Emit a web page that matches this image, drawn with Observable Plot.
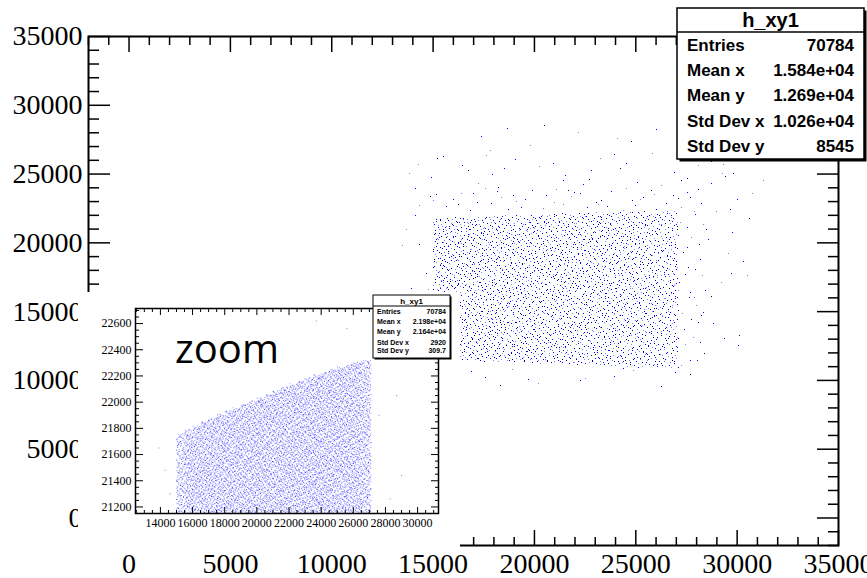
<!DOCTYPE html>
<html>
<head>
<meta charset="utf-8">
<script src="https://cdn.jsdelivr.net/npm/d3@7"></script>
<script src="https://cdn.jsdelivr.net/npm/@observablehq/plot@0.6"></script>
<style>
  body { margin: 0; background: #fff; }
  #chart { position: relative; width: 867px; height: 578px; overflow: hidden; background: #fff; }
  #chart > svg, #pad > svg { position: absolute; left: 0; top: 0; }
  #pad { position: absolute; left: 78px; top: 292px; width: 382px; height: 256px; background: #fff; }
  #overlay { position: absolute; left: 0; top: 0; pointer-events: none; }
  .rootaxes text { font-family: "Liberation Serif", "Times New Roman", serif !important; }
</style>
</head>
<body>
<div id="chart"><div id="pad"></div></div>
<script>
// ---- h_xy1, full range view ----
const xDomain = [-2000, 35000];
const yDomain = [-2000, 35000];
const mainMajorTicks = [0, 5000, 10000, 15000, 20000, 25000, 30000, 35000];
const mainMinorTicks = d3.range(-2000, 35001, 1000).filter(v => v % 5000 !== 0);

// filled band of the 2D histogram, one column per 1000-wide x bin
const bandX0     = [15000, 16000, 17000, 18000, 19000, 20000, 21000, 22000, 23000, 24000, 25000, 26000];
const bandX1     = [16000, 17000, 18000, 19000, 20000, 21000, 22000, 23000, 24000, 25000, 26000, 27100];
const bandTop    = [21790, 21850, 21910, 21960, 22010, 22060, 22115, 22160, 22210, 22250, 22285, 22320];
const bandBottom = [11500, 11450, 11400, 11350, 11300, 11250, 11200, 11150, 11100, 11000, 10950, 10900];
const bandDots   = [270, 270, 270, 270, 270, 270, 270, 270, 270, 270, 270, 270];

// sparse entries around the band (rectangular regions and their dot counts)
const haloX0 = [14000, 13500, 16000, 27100, 28500, 15500, 13500, 28000];
const haloX1 = [28500, 29500, 27500, 28500, 31000, 28000, 14900, 31500];
const haloY0 = [22300, 24000, 26500, 11000, 12000,  9500, 15000, 22300];
const haloY1 = [24000, 26500, 28600, 22300, 22300, 11000, 22300, 27000];
const haloDots = [55, 35, 10, 35, 15, 15, 8, 12];

// ---- zoomed view (500-wide x bins) ----
const insetXDomain = [12450, 31300];
const insetYDomain = [21150, 22715];
const insetMajorX = [14000, 16000, 18000, 20000, 22000, 24000, 26000, 28000, 30000];
const insetMinorX = d3.range(12500, 31300, 500).filter(v => v % 2000 !== 0);
const insetMajorY = [21200, 21400, 21600, 21800, 22000, 22200, 22400, 22600];
const insetMinorY = d3.range(21150, 22715, 50).filter(v => v % 200 !== 0);
const insetBinX0 = [15000, 15500, 16000, 16500, 17000, 17500, 18000, 18500, 19000, 19500, 20000, 20500,
                    21000, 21500, 22000, 22500, 23000, 23500, 24000, 24500, 25000, 25500, 26000, 26500];
const insetBinX1 = [15500, 16000, 16500, 17000, 17500, 18000, 18500, 19000, 19500, 20000, 20500, 21000,
                    21500, 22000, 22500, 23000, 23500, 24000, 24500, 25000, 25500, 26000, 26500, 27100];
const insetTop   = [21760, 21790, 21820, 21850, 21880, 21910, 21935, 21960, 21985, 22010, 22035, 22060,
                    22090, 22115, 22140, 22160, 22185, 22210, 22230, 22250, 22270, 22285, 22305, 22320];
const insetDots  = [150, 200, 213, 223, 232, 242, 250, 258, 266, 273, 281, 289,
                    299, 307, 315, 321, 329, 337, 343, 350, 356, 361, 367, 380];
const insetStrayX = [13900, 14300, 14600, 23700, 27600, 28300, 29000, 28700, 25600];
const insetStrayY = [21650, 21480, 21300, 22620, 21900, 21260, 21440, 22050, 22560];

// statistics boxes
const statLabels = ["Entries", "Mean x", "Mean y", "Std Dev x", "Std Dev y"];
const mainStatValues = ["70784", "1.584e+04", "1.269e+04", "1.026e+04", "8545"];
const insetStatValues = ["70784", "2.198e+04", "2.164e+04", "2920", "309.7"];
const histName = "h_xy1";

// Scatter drawing of binned contents: each bin's dots are spread over the bin
// with a leaped Halton (2,3) low-discrepancy sequence; tone picked from base 5.
const LEAP = 409;
function radicalInverse(i, b) {
  let f = 1, r = 0;
  while (i > 0) { f /= b; r += f * (i % b); i = Math.floor(i / b); }
  return r;
}
function scatterBins(x0, x1, y0, y1, counts, start, shares) {
  const pts = [];
  let idx = start;
  for (let b = 0; b < counts.length; b++) {
    for (let k = 0; k < counts[b]; k++, idx++) {
      const j = idx * LEAP;
      const t = radicalInverse(idx, 5);
      pts.push({
        x: x0[b] + radicalInverse(j, 2) * (x1[b] - x0[b]),
        y: y0[b] + radicalInverse(j, 3) * (y1[b] - y0[b]),
        tone: t < shares[0] ? 0 : t < shares[1] ? 1 : 2
      });
    }
  }
  return pts;
}

const mainPts = scatterBins(bandX0, bandX1, bandBottom, bandTop, bandDots, 1, [0.5, 0.82])
  .concat(scatterBins(haloX0, haloX1, haloY0, haloY1, haloDots, 7001, [0.5, 0.82]));

const insetPts = scatterBins(insetBinX0, insetBinX1, insetBinX0.map(() => insetYDomain[0]), insetTop, insetDots, 20001, [0.45, 0.8])
  .concat(insetStrayX.map((x, i) => ({x, y: insetStrayY[i], tone: 0})));

const mainTones = ["#0000ff", "#8080ff", "#000070"];
const insetTones = ["#8484ff", "#adadff", "#4a4aff"];

const blank = () => "";
const serif = "Liberation Serif";

const main = Plot.plot({
  className: "rootaxes",
  width: 867, height: 578,
  marginLeft: 88, marginRight: 29, marginTop: 36, marginBottom: 33,
  x: {domain: xDomain},
  y: {domain: yDomain},
  style: {color: "black", background: "white"},
  marks: [
    ...mainTones.map((c, i) => Plot.dot(mainPts.filter(d => d.tone === i),
      {x: "x", y: "y", fill: c, symbol: "square", r: 0.56, shapeRendering: "crispEdges"})),
    Plot.frame({stroke: "black", strokeWidth: 2}),
    Plot.axisX({anchor: "bottom", ticks: mainMajorTicks, tickSize: 0, tickPadding: 8, tickFormat: d => String(d), label: null, fontFamily: serif, fontSize: 28}),
    Plot.axisX({anchor: "bottom", ticks: mainMajorTicks, tickSize: -15, tickFormat: blank, label: null, strokeWidth: 1.5}),
    Plot.axisX({anchor: "bottom", ticks: mainMinorTicks, tickSize: -8, tickFormat: blank, label: null, strokeWidth: 1.5}),
    Plot.axisX({anchor: "top", ticks: mainMajorTicks, tickSize: -15, tickFormat: blank, label: null, strokeWidth: 1.5}),
    Plot.axisX({anchor: "top", ticks: mainMinorTicks, tickSize: -8, tickFormat: blank, label: null, strokeWidth: 1.5}),
    Plot.axisY({anchor: "left", ticks: mainMajorTicks, tickSize: 0, tickPadding: 6, tickFormat: d => String(d), label: null, fontFamily: serif, fontSize: 28}),
    Plot.axisY({anchor: "left", ticks: mainMajorTicks, tickSize: -22, tickFormat: blank, label: null, strokeWidth: 1.5}),
    Plot.axisY({anchor: "left", ticks: mainMinorTicks, tickSize: -11, tickFormat: blank, label: null, strokeWidth: 1.5}),
    Plot.axisY({anchor: "right", ticks: mainMajorTicks, tickSize: -22, tickFormat: blank, label: null, strokeWidth: 1.5}),
    Plot.axisY({anchor: "right", ticks: mainMinorTicks, tickSize: -11, tickFormat: blank, label: null, strokeWidth: 1.5})
  ]
});

const inset = Plot.plot({
  className: "rootaxes",
  width: 382, height: 256,
  marginLeft: 57, marginRight: 22, marginTop: 16, marginBottom: 35,
  x: {domain: insetXDomain},
  y: {domain: insetYDomain},
  style: {color: "black", background: "white"},
  marks: [
    ...insetTones.map((c, i) => Plot.dot(insetPts.filter(d => d.tone === i),
      {x: "x", y: "y", fill: c, symbol: "square", r: 0.6, clip: true})),
    Plot.frame({stroke: "black", strokeWidth: 1.5}),
    Plot.axisX({anchor: "bottom", ticks: insetMajorX, tickSize: 0, tickPadding: 5, tickFormat: d => String(d), label: null, fontFamily: serif, fontSize: 12}),
    Plot.axisX({anchor: "bottom", ticks: insetMajorX, tickSize: -6, tickFormat: blank, label: null}),
    Plot.axisX({anchor: "bottom", ticks: insetMinorX, tickSize: -3, tickFormat: blank, label: null}),
    Plot.axisX({anchor: "top", ticks: insetMajorX, tickSize: -6, tickFormat: blank, label: null}),
    Plot.axisX({anchor: "top", ticks: insetMinorX, tickSize: -3, tickFormat: blank, label: null}),
    Plot.axisY({anchor: "left", ticks: insetMajorY, tickSize: 0, tickPadding: 4, tickFormat: d => String(d), label: null, fontFamily: serif, fontSize: 12}),
    Plot.axisY({anchor: "left", ticks: insetMajorY, tickSize: -8, tickFormat: blank, label: null}),
    Plot.axisY({anchor: "left", ticks: insetMinorY, tickSize: -4, tickFormat: blank, label: null}),
    Plot.axisY({anchor: "right", ticks: insetMajorY, tickSize: -8, tickFormat: blank, label: null}),
    Plot.axisY({anchor: "right", ticks: insetMinorY, tickSize: -4, tickFormat: blank, label: null})
  ]
});

const chart = document.getElementById("chart");
chart.insertBefore(main, chart.firstChild);
document.getElementById("pad").appendChild(inset);

// overlay: statistics boxes and the "zoom" caption
const overlay = d3.select(chart).append("svg")
  .attr("id", "overlay").attr("width", 867).attr("height", 578);

function statBox(g, {x, y, w, h, sep, shadow, titleSize, titleBase, rowSize, rowBases, labelX, valueX, values, stroke}) {
  g.append("rect").attr("x", x + shadow).attr("y", y + shadow).attr("width", w).attr("height", h).attr("fill", "black");
  g.append("rect").attr("x", x).attr("y", y).attr("width", w).attr("height", h)
    .attr("fill", "white").attr("stroke", "black").attr("stroke-width", stroke);
  g.append("line").attr("x1", x).attr("x2", x + w).attr("y1", sep).attr("y2", sep)
    .attr("stroke", "black").attr("stroke-width", stroke);
  const font = "'Liberation Sans', Arial, Helvetica, sans-serif";
  g.append("text").attr("x", x + w / 2).attr("y", titleBase).attr("text-anchor", "middle")
    .attr("font-family", font).attr("font-weight", "bold").attr("font-size", titleSize).text(histName);
  statLabels.forEach((lab, i) => {
    g.append("text").attr("x", labelX).attr("y", rowBases[i])
      .attr("font-family", font).attr("font-weight", "bold").attr("font-size", rowSize).text(lab);
    g.append("text").attr("x", valueX).attr("y", rowBases[i]).attr("text-anchor", "end")
      .attr("font-family", font).attr("font-weight", "bold").attr("font-size", rowSize).text(values[i]);
  });
}

statBox(overlay.append("g"), {
  x: 677, y: 8, w: 187, h: 151, sep: 32, shadow: 2.5, stroke: 1.5,
  titleSize: 20, titleBase: 27, rowSize: 17, rowBases: [51, 76, 101, 127, 152],
  labelX: 687, valueX: 854, values: mainStatValues
});

statBox(overlay.append("g"), {
  x: 373, y: 295, w: 77, h: 63, sep: 306, shadow: 1.5, stroke: 1,
  titleSize: 8, titleBase: 303.5, rowSize: 7, rowBases: [314, 324, 334, 344.5, 353],
  labelX: 377, valueX: 446, values: insetStatValues
});

overlay.append("text").attr("x", 175).attr("y", 363)
  .attr("font-family", "'Open Sans', 'Noto Sans', sans-serif").attr("font-size", 40)
  .attr("fill", "black").text("zoom");
</script>
</body>
</html>
